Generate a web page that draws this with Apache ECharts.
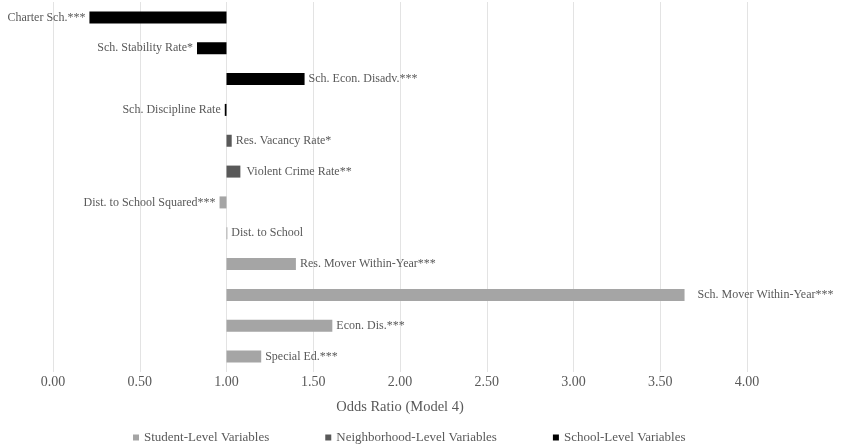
<!DOCTYPE html>
<html>
<head>
<meta charset="utf-8">
<script src="https://cdn.jsdelivr.net/npm/echarts@6/dist/echarts.min.js"></script>
<style>
  html, body { margin: 0; padding: 0; background: #ffffff; }
  #chart { width: 841px; height: 445px; }
</style>
</head>
<body>
<div id="chart"></div>
<script>
// Predictors, top to bottom
const categories = [
  'Charter Sch.***',
  'Sch. Stability Rate*',
  'Sch. Econ. Disadv.***',
  'Sch. Discipline Rate',
  'Res. Vacancy Rate*',
  'Violent Crime Rate**',
  'Dist. to School Squared***',
  'Dist. to School',
  'Res. Mover Within-Year***',
  'Sch. Mover Within-Year***',
  'Econ. Dis.***',
  'Special Ed.***'
];

// Odds ratios from Model 4
const oddsRatios = [0.21, 0.83, 1.45, 0.99, 1.03, 1.08, 0.96, 1.005, 1.40, 3.64, 1.61, 1.20];

// Variable level of each predictor
const levels = ['school', 'school', 'school', 'school',
                'neighborhood', 'neighborhood',
                'student', 'student', 'student', 'student', 'student', 'student'];

const seriesNames = {
  student: 'Student-Level Variables',
  neighborhood: 'Neighborhood-Level Variables',
  school: 'School-Level Variables'
};

const xTicks = { min: 0, max: 4, step: 0.5 };
const baseline = 1; // bars run from an odds ratio of 1

const colors = { student: '#a5a5a5', neighborhood: '#595959', school: '#000000' };
const serif = '"Liberation Serif", "Times New Roman", serif';
const textColor = '#595959';
// label spacing from the bar end (one label sits further out)
const defaultLabelGap = 4;
const labelGapOverride = { 'Sch. Mover Within-Year***': 13, 'Violent Crime Rate**': 6 };

// invisible offset up to the lower end of each bar
const offsetData = oddsRatios.map(v => Math.min(v, baseline));

function levelSeries(level) {
  return {
    name: seriesNames[level],
    type: 'bar',
    stack: 'or',
    barWidth: 12,
    itemStyle: { color: colors[level] },
    data: oddsRatios.map((v, i) => {
      if (levels[i] !== level) return '-';
      const name = categories[i];
      return {
        value: Math.abs(v - baseline),
        label: {
          show: true,
          position: v >= baseline ? 'right' : 'left',
          distance: labelGapOverride[name] != null ? labelGapOverride[name] : defaultLabelGap,
          formatter: () => name,
          color: textColor,
          fontFamily: serif,
          fontSize: 12
        }
      };
    })
  };
}

const chart = echarts.init(document.getElementById('chart'), null, { renderer: 'canvas' });

chart.setOption({
  animation: false,
  backgroundColor: '#ffffff',
  grid: { left: 53, right: 94, top: 2, bottom: 73, containLabel: false },
  xAxis: {
    type: 'value',
    min: xTicks.min,
    max: xTicks.max,
    interval: xTicks.step,
    name: 'Odds Ratio (Model 4)',
    nameLocation: 'middle',
    nameGap: 28,
    nameTextStyle: { color: textColor, fontFamily: serif, fontSize: 14.5 },
    axisLine: { show: false },
    axisTick: { show: false },
    axisLabel: {
      margin: 3,
      color: textColor,
      fontFamily: serif,
      fontSize: 14,
      formatter: v => v.toFixed(2)
    },
    splitLine: { show: true, lineStyle: { color: '#e3e3e3', width: 1 } }
  },
  yAxis: {
    type: 'category',
    data: categories,
    inverse: true,
    axisLine: { show: false },
    axisTick: { show: false },
    axisLabel: { show: false },
    splitLine: { show: false }
  },
  legend: {
    data: [seriesNames.student, seriesNames.neighborhood, seriesNames.school],
    left: 128,
    top: 426,
    icon: 'rect',
    itemWidth: 6,
    itemHeight: 6,
    itemGap: 56,
    textStyle: { color: textColor, fontFamily: serif, fontSize: 13 }
  },
  series: [
    {
      name: 'offset',
      type: 'bar',
      stack: 'or',
      barWidth: 12,
      silent: true,
      itemStyle: { color: 'rgba(0,0,0,0)' },
      data: offsetData
    },
    levelSeries('student'),
    levelSeries('neighborhood'),
    levelSeries('school')
  ]
});
</script>
</body>
</html>
